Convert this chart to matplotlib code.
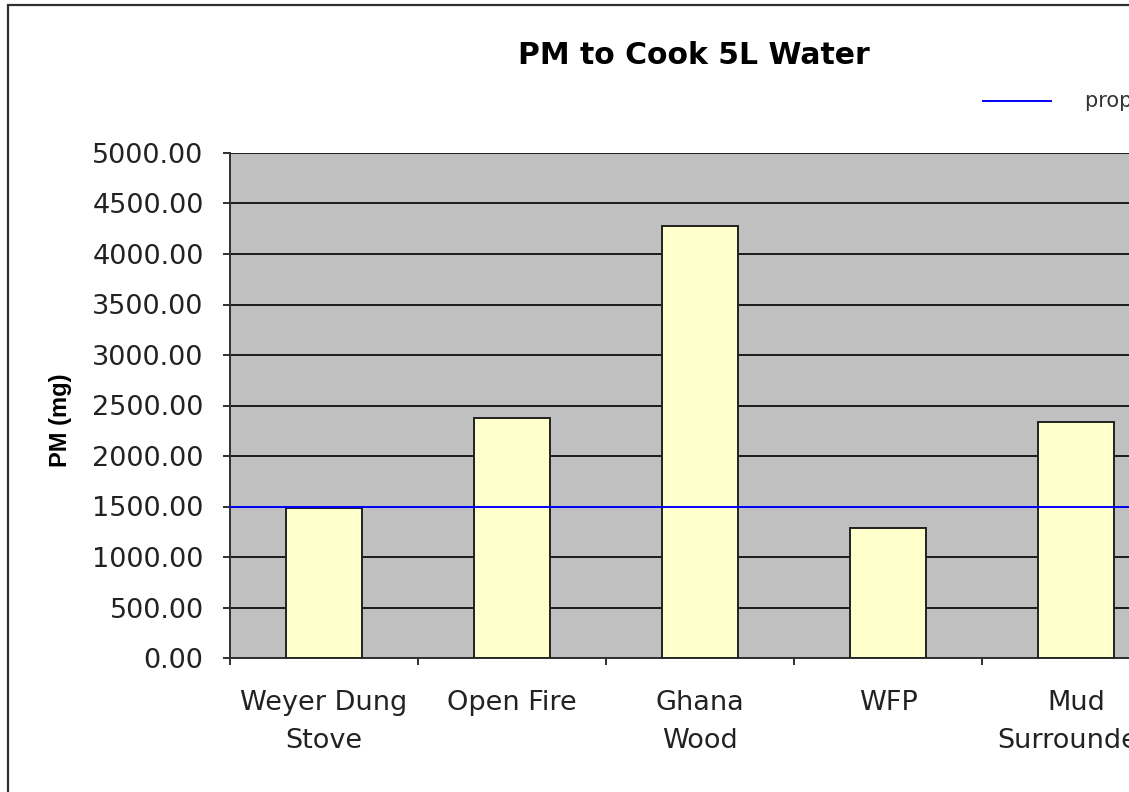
import matplotlib
matplotlib.use("Agg")
import matplotlib.pyplot as plt
from matplotlib.patches import Rectangle

# data
stoves = ["Weyer Dung\nStove", "Open Fire", "Ghana\nWood", "WFP", "Mud\nSurrounded"]
pm_mg = [1490, 2380, 4280, 1290, 2340]
limit_label = "proposed standard"
limit_value = 1500
yticks = [0, 500, 1000, 1500, 2000, 2500, 3000, 3500, 4000, 4500, 5000]

plt.rcParams["font.family"] = ["DejaVu Sans"]

W, H = 1129, 792
fig = plt.figure(figsize=(W / 100, H / 100), dpi=100)

# the original is cropped on the right, so the plot area runs past the edge
slot = 188
n_slots = 6
ax_w = n_slots * slot
ax = fig.add_axes([230 / W, 1 - 658 / H, ax_w / W, (658 - 153) / H])
ax.set_facecolor("#c0c0c0")

x = list(range(len(stoves)))
ax.bar(x, pm_mg, width=0.405, color="#ffffcc", edgecolor="#202020",
       linewidth=1.4, zorder=3)
ax.axhline(limit_value, color="#0000ff", linewidth=1.4, zorder=4, label=limit_label)

ax.set_xlim(-0.5, n_slots - 0.5)
ax.set_ylim(0, 5000)
ax.set_yticks(yticks)
ax.set_yticklabels([f"{v:.2f}" for v in yticks], fontsize=19.5, color="#222222")
ax.yaxis.grid(True, color="#1a1a1a", linewidth=1.4, zorder=1)
ax.set_axisbelow(True)

# category labels in the middle, tick marks on the boundaries
ax.set_xticks(x)
ax.set_xticklabels(stoves, fontsize=19.5, linespacing=1.62, color="#222222")
ax.tick_params(axis="x", length=0, pad=23)
ax.set_xticks([i - 0.5 for i in range(n_slots + 1)], minor=True)
ax.tick_params(axis="x", which="minor", length=5, width=1.4, color="#303030")
ax.tick_params(axis="y", length=5, width=1.4, color="#303030", pad=14)

for side in ["top", "right"]:
    ax.spines[side].set_visible(False)
for side in ["left", "bottom"]:
    ax.spines[side].set_color("#303030")
    ax.spines[side].set_linewidth(1.4)

ax.set_ylabel("PM (mg)", fontsize=17, fontweight="bold",
              family="Liberation Sans")
ax.yaxis.set_label_coords(-158 / ax_w, 1 - (420 - 153) / 505)

fig.text(694 / W, 1 - 55 / H, "PM to Cook 5L Water", fontsize=21.5,
         fontweight="bold", ha="center", va="center")

# legend entry, also cut off by the right edge
fig.add_artist(plt.Line2D([983 / W, 1051 / W], [1 - 101 / H, 1 - 101 / H],
                          color="#0000ff", linewidth=1.4))
fig.text(1085 / W, 1 - 101 / H, limit_label, fontsize=15, ha="left",
         va="center", color="#333333")

# chart border
fig.add_artist(Rectangle((8 / W, -0.1), 1.2, 1 - 5 / H + 0.1,
                         transform=fig.transFigure, fill=False,
                         edgecolor="#303030", linewidth=1.6))

fig.savefig("out.png", dpi=100)
